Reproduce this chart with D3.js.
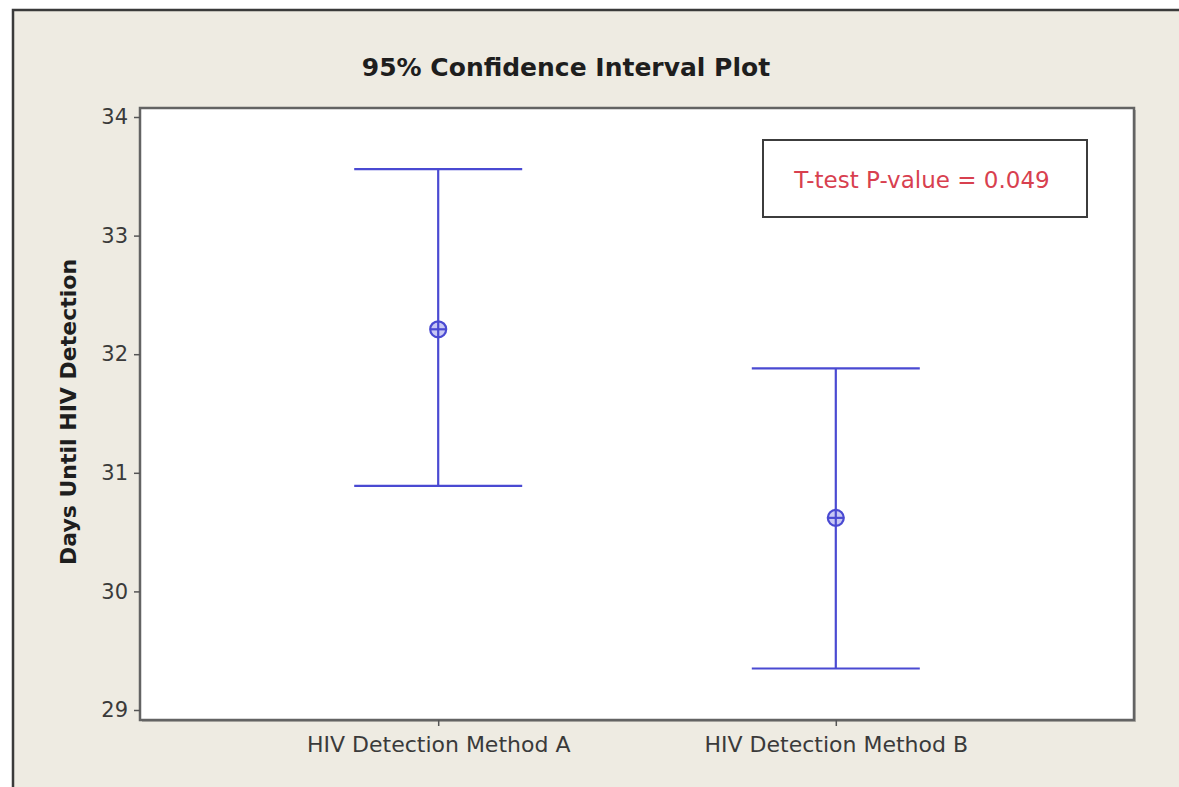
<!DOCTYPE html>
<html>
<head>
<meta charset="utf-8">
<script src="https://cdn.jsdelivr.net/npm/d3@7"></script>
<style>
  html, body { margin: 0; padding: 0; background: #ffffff; }
  svg { display: block; }
</style>
</head>
<body>
<div id="chart"></div>
<script>
// data
const groups = ["HIV Detection Method A", "HIV Detection Method B"];
const means = [32.21, 30.62];
const lowers = [30.89, 29.35];
const uppers = [33.56, 31.88];
const yTicks = [29, 30, 31, 32, 33, 34];
const pText = "T-test P-value = 0.049";

const W = 1179, H = 787;
const plot = {left: 140, right: 1134, top: 108, bottom: 720};
const blue = "#4a4ad2";

const svg = d3.select("#chart").append("svg")
    .attr("width", W)
    .attr("height", H);

// beige panel with the dark frame on top and left
svg.append("rect")
    .attr("x", 13).attr("y", 10)
    .attr("width", W - 13).attr("height", H - 10)
    .attr("fill", "#eeebe2");
svg.append("path")
    .attr("d", `M13,${H} V10 H${W}`)
    .attr("fill", "none")
    .attr("stroke", "#3a3a3a")
    .attr("stroke-width", 2.5);

// plot area
svg.append("rect")
    .attr("x", plot.left + 2).attr("y", plot.top + 2)
    .attr("width", plot.right - plot.left).attr("height", plot.bottom - plot.top)
    .attr("fill", "#b9b6af");
svg.append("rect")
    .attr("x", plot.left).attr("y", plot.top)
    .attr("width", plot.right - plot.left).attr("height", plot.bottom - plot.top)
    .attr("fill", "#ffffff")
    .attr("stroke", "#636363")
    .attr("stroke-width", 2.5);

var x = d3.scalePoint()
    .domain(groups)
    .range([plot.left, plot.right])
    .padding(0.75);

var y = d3.scaleLinear()
    .domain([29, 34])
    .range([710, 117]);

// axes
const yAxis = svg.append("g")
    .attr("transform", `translate(${plot.left}, 0)`)
    .call(d3.axisLeft(y).tickValues(yTicks).tickFormat(d3.format("d")).tickSize(6).tickPadding(6));
yAxis.select(".domain").remove();
yAxis.selectAll("line").attr("stroke", "#555").attr("stroke-width", 1.5);
yAxis.selectAll("text")
    .attr("fill", "#3a3a3a")
    .style("font-family", "DejaVu Sans")
    .style("font-size", "21px");

const xAxis = svg.append("g")
    .attr("transform", `translate(0, ${plot.bottom})`)
    .call(d3.axisBottom(x).tickSize(6).tickPadding(10));
xAxis.select(".domain").remove();
xAxis.selectAll("line").attr("stroke", "#555").attr("stroke-width", 1.5);
xAxis.selectAll("text")
    .attr("fill", "#3a3a3a")
    .style("font-family", "DejaVu Sans")
    .style("font-size", "22px");

// interval bars
const capHalf = 84;
const bars = svg.append("g")
    .selectAll("g")
    .data(groups)
    .enter().append("g")
    .attr("stroke", blue)
    .attr("stroke-width", 2.2)
    .attr("fill", "none");

bars.append("line")
    .attr("x1", d => x(d) - capHalf).attr("x2", d => x(d) + capHalf)
    .attr("y1", (d, i) => y(uppers[i])).attr("y2", (d, i) => y(uppers[i]));
bars.append("line")
    .attr("x1", d => x(d) - capHalf).attr("x2", d => x(d) + capHalf)
    .attr("y1", (d, i) => y(lowers[i])).attr("y2", (d, i) => y(lowers[i]));

// mean markers (circle with cross)
const r = 8;
bars.append("circle")
    .attr("cx", d => x(d))
    .attr("cy", (d, i) => y(means[i]))
    .attr("r", r)
    .attr("fill", "#c8c8f4");
bars.append("line")
    .attr("x1", d => x(d)).attr("x2", d => x(d))
    .attr("y1", (d, i) => y(uppers[i]))
    .attr("y2", (d, i) => y(lowers[i]));
bars.append("line")
    .attr("x1", d => x(d) - r).attr("x2", d => x(d) + r)
    .attr("y1", (d, i) => y(means[i])).attr("y2", (d, i) => y(means[i]));

// p-value box
svg.append("rect")
    .attr("x", 763).attr("y", 140)
    .attr("width", 324).attr("height", 77)
    .attr("fill", "#ffffff")
    .attr("stroke", "#3c3c3c")
    .attr("stroke-width", 2);
svg.append("text")
    .attr("x", 922).attr("y", 188)
    .attr("text-anchor", "middle")
    .attr("fill", "#d8404f")
    .style("font-family", "DejaVu Sans")
    .style("font-size", "23px")
    .text(pText);

// titles
svg.append("text")
    .attr("x", 566).attr("y", 76)
    .attr("text-anchor", "middle")
    .attr("fill", "#1e1e1e")
    .style("font-family", "DejaVu Sans")
    .style("font-weight", "bold")
    .style("font-size", "25px")
    .text("95% Confidence Interval Plot");

svg.append("text")
    .attr("transform", `translate(76, 412) rotate(-90)`)
    .attr("text-anchor", "middle")
    .attr("fill", "#1e1e1e")
    .style("font-family", "DejaVu Sans")
    .style("font-weight", "bold")
    .style("font-size", "22px")
    .text("Days Until HIV Detection");
</script>
</body>
</html>
